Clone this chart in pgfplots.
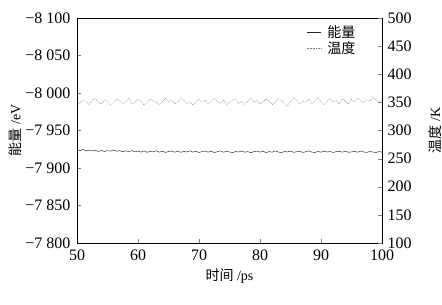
\documentclass[border=0pt]{standalone}
\usepackage{fontspec}
\setmainfont{Liberation Serif}
\newfontfamily\tnr{Liberation Serif}
\newfontfamily\cjk{Noto Sans CJK SC}
\usepackage{pgfplots}
\pgfplotsset{compat=1.18}
\usetikzlibrary{calc}
\begin{document}
\begin{tikzpicture}
\begin{axis}[
  scale only axis, width=305pt, height=225pt,
  xmin=50, xmax=100, ymin=-8100, ymax=-7800,
  y dir=reverse,
  xtick={50,60,...,100}, ytick={-8100,-8050,...,-7800},
  yticklabels={−8\ 100,−8\ 050,−8\ 000,−7\ 950,−7\ 900,−7\ 850,−7\ 800},
  xticklabel={\pgfmathprintnumber{\tick}},
  xtick pos=bottom, ytick pos=left, tick align=inside,
  major tick length=4pt,
  /pgf/number format/assume math mode=true,
  ticklabel style={font=\tnr\fontsize{16}{18}\selectfont},
  xticklabel style={yshift=-3pt},
  yticklabel style={xshift=-3pt},
  xlabel={{\cjk 时间} /ps}, ylabel={{\cjk 能量} /eV},
  label style={font=\tnr\fontsize{14}{16}\selectfont},
  xlabel style={yshift=-2pt},
  ylabel style={yshift=-3pt},
  axis line style={line width=0.6pt},
]
\addplot[black!85, line width=0.45pt] coordinates {
(50,-7924.5)(50.5,-7923.0)(51,-7924.8)(51.5,-7922.6)(52,-7923.9)(52.5,-7922.8)(53,-7923.5)(53.5,-7922.1)(54,-7923.4)(54.5,-7921.9)
(55,-7923.2)(55.5,-7922.5)(56,-7924.0)(56.5,-7922.3)(57,-7923.1)(57.5,-7921.6)(58,-7922.9)(58.5,-7921.8)(59,-7923.3)(59.5,-7921.4)
(60,-7922.6)(60.5,-7921.2)(61,-7922.8)(61.5,-7920.9)(62,-7922.2)(62.5,-7921.5)(63,-7923.0)(63.5,-7921.1)(64,-7922.4)(64.5,-7920.8)
(65,-7921.9)(65.5,-7922.7)(66,-7921.0)(66.5,-7922.5)(67,-7920.9)(67.5,-7922.1)(68,-7921.3)(68.5,-7923.0)(69,-7921.2)(69.5,-7922.3)
(70,-7920.7)(70.5,-7921.8)(71,-7922.6)(71.5,-7921.1)(72,-7922.4)(72.5,-7920.6)(73,-7921.7)(73.5,-7922.9)(74,-7921.0)(74.5,-7922.2)
(75,-7921.4)(75.5,-7920.5)(76,-7922.0)(76.5,-7921.3)(77,-7922.7)(77.5,-7921.0)(78,-7921.9)(78.5,-7920.4)(79,-7921.8)(79.5,-7922.5)
(80,-7921.2)(80.5,-7922.3)(81,-7920.6)(81.5,-7921.9)(82,-7921.1)(82.5,-7922.8)(83,-7921.3)(83.5,-7920.5)(84,-7922.0)(84.5,-7921.4)
(85,-7922.6)(85.5,-7920.9)(86,-7921.7)(86.5,-7922.4)(87,-7920.8)(87.5,-7921.6)(88,-7922.9)(88.5,-7921.2)(89,-7920.6)(89.5,-7922.1)
(90,-7921.0)(90.5,-7922.5)(91,-7921.3)(91.5,-7922.0)(92,-7920.7)(92.5,-7921.8)(93,-7922.3)(93.5,-7921.1)(94,-7922.6)(94.5,-7920.9)
(95,-7921.5)(95.5,-7922.2)(96,-7921.0)(96.5,-7922.7)(97,-7921.4)(97.5,-7920.8)(98,-7922.0)(98.5,-7921.3)(99,-7920.6)(99.5,-7921.9)
(100,-7921.2)
};
\end{axis}
\begin{axis}[
  scale only axis, width=305pt, height=225pt,
  xmin=50, xmax=100, ymin=100, ymax=500,
  axis x line=none, axis y line*=right,
  ytick={100,150,...,500},
  yticklabel={\pgfmathprintnumber{\tick}},
  tick align=inside, major tick length=4pt,
  /pgf/number format/assume math mode=true,
  ticklabel style={font=\tnr\fontsize{16}{18}\selectfont},
  yticklabel style={xshift=2pt},
  ylabel={{\cjk 温度} /K},
  label style={font=\tnr\fontsize{14}{16}\selectfont},
  ylabel style={yshift=-10pt},
  axis line style={line width=0.6pt},
  legend style={at={(0.93,0.985)}, anchor=north east, draw=none, fill=none,
    font=\fontsize{14}{16}\selectfont\cjk, row sep=-1pt},
  legend cell align=left,
  legend image code/.code={\draw[#1] (0cm,0cm) -- (0.5cm,0cm); \path (0.65cm,0cm);},
]
\coordinate (sw) at (rel axis cs:0,0);
\coordinate (ne) at (rel axis cs:1,1);
\addlegendimage{black!85, line width=0.45pt}
\addlegendentry{能量}
\addplot[black!50, densely dotted, line width=0.55pt] coordinates {
(50,352)(50.5,348)(51,355)(51.5,351)(52,346)(52.5,354)(53,357)(53.5,350)(54,347)(54.5,355)
(55,352)(55.5,345)(56,350)(56.5,356)(57,353)(57.5,348)(58,351)(58.5,358)(59,347)(59.5,350)
(60,355)(60.5,352)(61,345)(61.5,349)(62,356)(62.5,353)(63,350)(63.5,346)(64,352)(64.5,357)
(65,351)(65.5,354)(66,347)(66.5,350)(67,358)(67.5,354)(68,348)(68.5,351)(69,345)(69.5,352)
(70,356)(70.5,350)(71,354)(71.5,347)(72,351)(72.5,357)(73,352)(73.5,348)(74,355)(74.5,346)
(75,350)(75.5,354)(76,356)(76.5,348)(77,351)(77.5,345)(78,352)(78.5,358)(79,350)(79.5,354)
(80,347)(80.5,351)(81,356)(81.5,352)(82,346)(82.5,350)(83,357)(83.5,353)(84,348)(84.5,343)
(85,351)(85.5,358)(86,354)(86.5,347)(87,352)(87.5,350)(88,356)(88.5,348)(89,353)(89.5,359)
(90,351)(90.5,346)(91,352)(91.5,357)(92,350)(92.5,354)(93,348)(93.5,356)(94,352)(94.5,347)
(95,355)(95.5,351)(96,358)(96.5,353)(97,349)(97.5,356)(98,352)(98.5,359)(99,354)(99.5,350)
(100,356)
};
\addlegendentry{温度}
\end{axis}
\pgfresetboundingbox
\path ($(sw)+(-77pt,-61pt)$) rectangle ($(ne)+(60pt,18pt)$);
\end{tikzpicture}
\end{document}
